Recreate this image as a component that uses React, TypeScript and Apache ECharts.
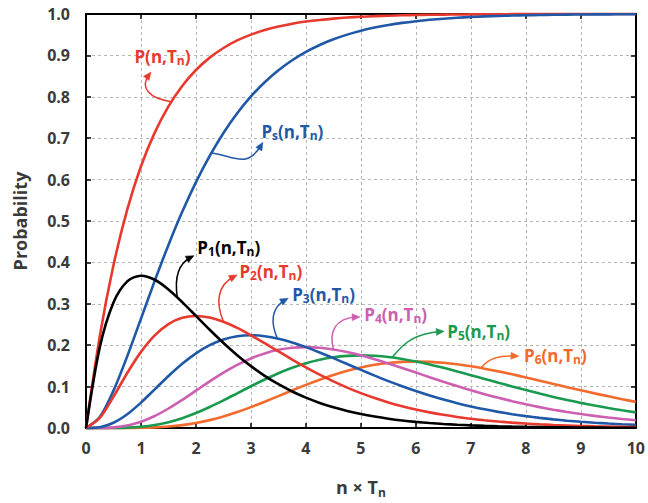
import React, { useEffect, useRef } from 'react';
import * as echarts from 'echarts';

const xValues = [0, 0.25, 0.5, 0.75, 1, 1.25, 1.5, 1.75, 2, 2.25, 2.5, 2.75, 3, 3.25, 3.5, 3.75, 4, 4.25, 4.5, 4.75, 5, 5.25, 5.5, 5.75, 6, 6.25, 6.5, 6.75, 7, 7.25, 7.5, 7.75, 8, 8.25, 8.5, 8.75, 9, 9.25, 9.5, 9.75, 10];

const pTotal = [0, 0.2212, 0.3935, 0.5276, 0.6321, 0.7135, 0.7769, 0.8262, 0.8647, 0.8946, 0.9179, 0.9361, 0.9502, 0.9612, 0.9698, 0.9765, 0.9817, 0.9857, 0.9889, 0.9914, 0.9933, 0.9948, 0.9959, 0.9968, 0.9975, 0.9981, 0.9985, 0.9988, 0.9991, 0.9993, 0.9994, 0.9996, 0.9997, 0.9997, 0.9998, 0.9998, 0.9999, 0.9999, 0.9999, 0.9999, 1.0];
const pS = [0, 0.0265, 0.0902, 0.1733, 0.2642, 0.3554, 0.4422, 0.5221, 0.594, 0.6574, 0.7127, 0.7603, 0.8009, 0.8352, 0.8641, 0.8883, 0.9084, 0.9251, 0.9389, 0.9502, 0.9596, 0.9672, 0.9734, 0.9785, 0.9826, 0.986, 0.9887, 0.9909, 0.9927, 0.9942, 0.9953, 0.9962, 0.997, 0.9976, 0.9981, 0.9985, 0.9988, 0.999, 0.9992, 0.9994, 0.9995];
const p1 = [0, 0.1947, 0.3033, 0.3543, 0.3679, 0.3581, 0.3347, 0.3041, 0.2707, 0.2372, 0.2052, 0.1758, 0.1494, 0.126, 0.1057, 0.0882, 0.0733, 0.0606, 0.05, 0.0411, 0.0337, 0.0276, 0.0225, 0.0183, 0.0149, 0.0121, 0.0098, 0.0079, 0.0064, 0.0052, 0.0042, 0.0033, 0.0027, 0.0022, 0.0017, 0.0014, 0.0011, 0.0009, 0.0007, 0.0006, 0.0005];
const p2 = [0, 0.0243, 0.0758, 0.1329, 0.1839, 0.2238, 0.251, 0.2661, 0.2707, 0.2668, 0.2565, 0.2417, 0.224, 0.2048, 0.185, 0.1654, 0.1465, 0.1288, 0.1125, 0.0976, 0.0842, 0.0723, 0.0618, 0.0526, 0.0446, 0.0377, 0.0318, 0.0267, 0.0223, 0.0187, 0.0156, 0.0129, 0.0107, 0.0089, 0.0073, 0.0061, 0.005, 0.0041, 0.0034, 0.0028, 0.0023];
const p3 = [0, 0.002, 0.0126, 0.0332, 0.0613, 0.0933, 0.1255, 0.1552, 0.1804, 0.2001, 0.2138, 0.2216, 0.224, 0.2218, 0.2158, 0.2067, 0.1954, 0.1825, 0.1687, 0.1545, 0.1404, 0.1266, 0.1133, 0.1009, 0.0892, 0.0785, 0.0688, 0.06, 0.0521, 0.0451, 0.0389, 0.0334, 0.0286, 0.0244, 0.0208, 0.0176, 0.015, 0.0127, 0.0107, 0.009, 0.0076];
const p4 = [0, 0.0001, 0.0016, 0.0062, 0.0153, 0.0291, 0.0471, 0.0679, 0.0902, 0.1126, 0.1336, 0.1523, 0.168, 0.1802, 0.1888, 0.1938, 0.1954, 0.1939, 0.1898, 0.1835, 0.1755, 0.1661, 0.1558, 0.145, 0.1339, 0.1227, 0.1118, 0.1013, 0.0912, 0.0818, 0.0729, 0.0648, 0.0573, 0.0504, 0.0442, 0.0386, 0.0337, 0.0293, 0.0254, 0.0219, 0.0189];
const p5 = [0, 0, 0.0002, 0.0009, 0.0031, 0.0073, 0.0141, 0.0238, 0.0361, 0.0507, 0.0668, 0.0838, 0.1008, 0.1171, 0.1322, 0.1453, 0.1563, 0.1648, 0.1708, 0.1743, 0.1755, 0.1744, 0.1714, 0.1667, 0.1606, 0.1534, 0.1453, 0.1367, 0.1277, 0.1186, 0.1094, 0.1004, 0.0916, 0.0831, 0.0751, 0.0675, 0.0607, 0.0542, 0.0483, 0.0428, 0.0378];
const p6 = [0, 0, 0, 0.0001, 0.0005, 0.0015, 0.0035, 0.0069, 0.012, 0.019, 0.0278, 0.0384, 0.0504, 0.0635, 0.0771, 0.0908, 0.1042, 0.1167, 0.1281, 0.138, 0.1462, 0.1526, 0.1571, 0.1598, 0.1606, 0.1598, 0.1575, 0.1538, 0.149, 0.1433, 0.1368, 0.1297, 0.1221, 0.1143, 0.1064, 0.0985, 0.0911, 0.0836, 0.0765, 0.0695, 0.0631];

const xTicks = ['0', '1', '2', '3', '4', '5', '6', '7', '8', '9', '10'];

const RED = '#e8392f';
const BLUE = '#1f58a6';
const BLACK = '#000000';
const PINK = '#cc5fb0';
const GREEN = '#1a9a4e';
const ORANGE = '#f26a2c';

const FONT = "'Open Sans', 'Noto Sans', sans-serif";
const TEXT_COLOR = '#3a3a3a';

const seriesDefs = [
  { name: 'P(n,Tn)', data: pTotal, color: RED },
  { name: 'Ps(n,Tn)', data: pS, color: BLUE },
  { name: 'P6(n,Tn)', data: p6, color: ORANGE },
  { name: 'P5(n,Tn)', data: p5, color: GREEN },
  { name: 'P4(n,Tn)', data: p4, color: PINK },
  { name: 'P3(n,Tn)', data: p3, color: BLUE },
  { name: 'P2(n,Tn)', data: p2, color: RED },
  { name: 'P1(n,Tn)', data: p1, color: BLACK },
];

// Annotation labels: subscript after P, colour, label anchor (data coords, left-middle)
// and arrow bezier (start, cp1, cp2, end) in data coords.
const annotations = [
  { sub: '', color: RED, label: [0.881, 0.897], arrow: [[1.55, 0.788], [1.15, 0.796], [0.97, 0.822], [1.15, 0.854]] },
  { sub: 's', color: BLUE, label: [3.19, 0.715], arrow: [[2.28, 0.664], [2.7, 0.657], [2.93, 0.625], [3.19, 0.684]] },
  { sub: '1', color: BLACK, label: [2.025, 0.436], arrow: [[1.66, 0.316], [1.61, 0.36], [1.66, 0.396], [1.915, 0.413]] },
  { sub: '2', color: RED, label: [2.79, 0.377], arrow: [[2.5, 0.2565], [2.35, 0.304], [2.39, 0.345], [2.7, 0.3665]] },
  { sub: '3', color: BLUE, label: [3.75, 0.322], arrow: [[3.48, 0.2164], [3.35, 0.255], [3.37, 0.291], [3.63, 0.31]] },
  { sub: '4', color: PINK, label: [5.06, 0.274], arrow: [[4.5, 0.1898], [4.42, 0.23], [4.51, 0.266], [4.93, 0.268]] },
  { sub: '5', color: GREEN, label: [6.57, 0.2335], arrow: [[5.57, 0.171], [5.79, 0.2065], [5.97, 0.228], [6.46, 0.233]] },
  { sub: '6', color: ORANGE, label: [7.965, 0.176], arrow: [[7.18, 0.145], [7.33, 0.169], [7.51, 0.176], [7.82, 0.1737]] },
];

function labelRich(color: string) {
  return {
    m: { fontSize: 17, fontWeight: 'bold', fontFamily: FONT, fill: color, color, lineHeight: 18 },
    s: { fontSize: 12, fontWeight: 'bold', fontFamily: FONT, fill: color, color, lineHeight: 10, height: 10, verticalAlign: 'bottom' },
  };
}

export default function App() {
  const ref = useRef<HTMLDivElement>(null);
  useEffect(() => {
    if (!ref.current) return;
    const chart = echarts.init(ref.current, null, { renderer: 'svg' });
    const axisLine = { show: true, onZero: false, lineStyle: { color: '#000', width: 2 } };
    const option: any = {
      animation: false,
      backgroundColor: '#ffffff',
      grid: { left: 86, right: 11, top: 14, bottom: 71, containLabel: false },
      xAxis: [
        {
          type: 'value', min: 0, max: 10, interval: 1, position: 'bottom',
          axisLine, axisTick: { show: true, inside: true, length: 5, lineStyle: { color: '#000', width: 1.5 } },
          axisLabel: {
            margin: 12, color: TEXT_COLOR, fontSize: 16, fontWeight: 'bold', fontFamily: FONT,
            formatter: (v: number) => xTicks[Math.round(v)] ?? String(v),
          },
          splitLine: { show: true, lineStyle: { color: '#b5b5b5', type: [3, 3], width: 1 } },
          name: '{a|n × T}{b|n}', nameLocation: 'middle', nameGap: 48,
          nameTextStyle: {
            rich: {
              a: { fontSize: 18, fontWeight: 'bold', fontFamily: FONT, color: TEXT_COLOR, lineHeight: 22 },
              b: { fontSize: 12, fontWeight: 'bold', fontFamily: FONT, color: TEXT_COLOR, lineHeight: 12, height: 12, verticalAlign: 'bottom' },
            },
          },
        },
        {
          type: 'value', min: 0, max: 10, interval: 1, position: 'top',
          axisLine, axisTick: { show: true, inside: true, length: 5, lineStyle: { color: '#000', width: 1.5 } },
          axisLabel: { show: false }, splitLine: { show: false },
        },
      ],
      yAxis: [
        {
          type: 'value', min: 0, max: 1, interval: 0.1, position: 'left',
          axisLine, axisTick: { show: true, inside: true, length: 5, lineStyle: { color: '#000', width: 1.5 } },
          axisLabel: {
            margin: 16, color: TEXT_COLOR, fontSize: 16, fontWeight: 'bold', fontFamily: FONT,
            formatter: (v: number) => v.toFixed(1),
          },
          splitLine: { show: true, lineStyle: { color: '#b5b5b5', type: [3, 3], width: 1 } },
          name: 'Probability', nameLocation: 'middle', nameGap: 57,
          nameTextStyle: { fontSize: 18, fontWeight: 'bold', fontFamily: FONT, color: TEXT_COLOR },
        },
        {
          type: 'value', min: 0, max: 1, interval: 0.1, position: 'right',
          axisLine, axisTick: { show: true, inside: true, length: 5, lineStyle: { color: '#000', width: 1.5 } },
          axisLabel: { show: false }, splitLine: { show: false },
        },
      ],
      series: seriesDefs.map((s) => ({
        name: s.name,
        type: 'line',
        xAxisIndex: 0,
        yAxisIndex: 0,
        data: xValues.map((x, i) => [x, s.data[i]]),
        smooth: 0.3,
        showSymbol: false,
        symbol: 'none',
        clip: false,
        lineStyle: { color: s.color, width: 2.6 },
        itemStyle: { color: s.color },
        z: 3,
      })),
    };
    chart.setOption(option);

    const toPx = (p: number[]) => chart.convertToPixel({ xAxisIndex: 0, yAxisIndex: 0 }, p) as number[];
    const graphics: any[] = [];
    annotations.forEach((a) => {
      const [s, c1, c2, e] = a.arrow.map(toPx);
      graphics.push({
        type: 'bezierCurve',
        shape: { x1: s[0], y1: s[1], cpx1: c1[0], cpy1: c1[1], cpx2: c2[0], cpy2: c2[1], x2: e[0], y2: e[1] },
        style: { stroke: a.color, lineWidth: 1.5, fill: 'none' },
        z: 10,
      });
      const dx = e[0] - c2[0];
      const dy = e[1] - c2[1];
      const len = Math.sqrt(dx * dx + dy * dy) || 1;
      const ux = dx / len;
      const uy = dy / len;
      const tip = [e[0] + ux * 3, e[1] + uy * 3];
      const base = [tip[0] - ux * 8, tip[1] - uy * 8];
      graphics.push({
        type: 'polygon',
        shape: { points: [tip, [base[0] - uy * 3.5, base[1] + ux * 3.5], [base[0] + uy * 3.5, base[1] - ux * 3.5]] },
        style: { fill: a.color, stroke: a.color, lineWidth: 0.5 },
        z: 10,
      });
      const lp = toPx(a.label);
      const text = a.sub ? `{m|P}{s|${a.sub}}{m|(n,T}{s|n}{m|)}` : '{m|P(n,T}{s|n}{m|)}';
      graphics.push({
        type: 'text',
        x: lp[0],
        y: lp[1],
        z: 11,
        style: {
          text,
          rich: labelRich(a.color),
          fill: a.color,
          align: 'left',
          verticalAlign: 'middle',
          textAlign: 'left',
          textVerticalAlign: 'middle',
          fontFamily: FONT,
          fontWeight: 'bold',
          fontSize: 17,
        },
      });
    });
    chart.setOption({ graphic: graphics });
    return () => chart.dispose();
  }, []);
  return <div ref={ref} style={{ position: 'fixed', left: 0, top: 0, width: 648, height: 503 }} />;
}
